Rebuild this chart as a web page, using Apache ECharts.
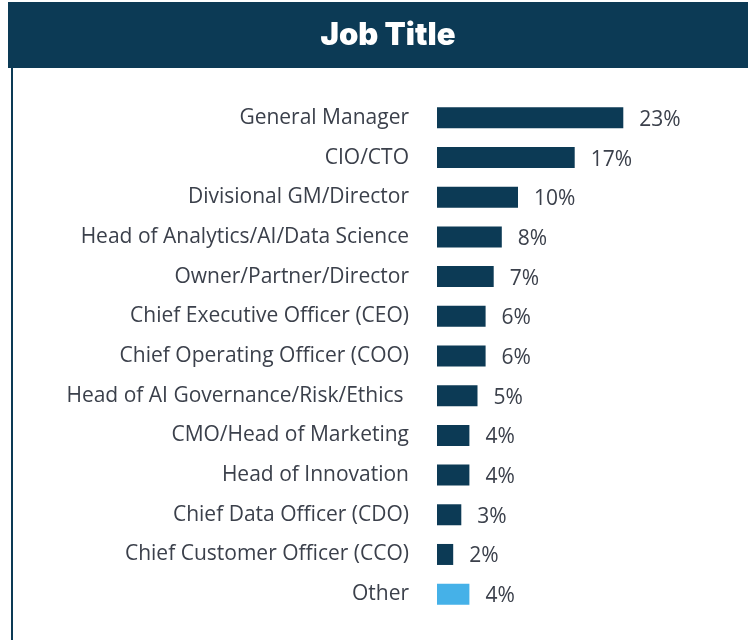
<!DOCTYPE html>
<html>
<head>
<meta charset="utf-8">
<style>
  html, body { margin: 0; padding: 0; background: #ffffff; }
  #chart-jobs { width: 748px; height: 640px; }
</style>
<script src="https://cdn.jsdelivr.net/npm/echarts@6/dist/echarts.min.js"></script>
</head>
<body>
<div id="chart-jobs"></div>
<script>
var categories = [
  "General Manager",
  "CIO/CTO",
  "Divisional GM/Director",
  "Head of Analytics/AI/Data Science",
  "Owner/Partner/Director",
  "Chief Executive Officer (CEO)",
  "Chief Operating Officer (COO)",
  "Head of AI Governance/Risk/Ethics ",
  "CMO/Head of Marketing",
  "Head of Innovation",
  "Chief Data Officer (CDO)",
  "Chief Customer Officer (CCO)",
  "Other"
];
var shares = [23, 17, 10, 8, 7, 6, 6, 5, 4, 4, 3, 2, 4];
var highlight = ["Other"];

(function() {
  var navy = '#0c3a55';
  var sky = '#45b1e8';
  var ink = '#3b404b';

  var chart = echarts.init(document.getElementById('chart-jobs'), null, { renderer: 'canvas' });

  // top row first in the picture, so reverse for the category axis
  var cats = categories.slice().reverse();
  var vals = shares.slice().reverse().map(function(v, i) {
    return {
      value: v,
      itemStyle: { color: highlight.indexOf(cats[i]) >= 0 ? sky : navy }
    };
  });

  chart.setOption({
    animation: false,
    graphic: [
      { type: 'rect', shape: { x: 8, y: 2, width: 741, height: 66 }, style: { fill: navy }, z: 0 },
      { type: 'rect', shape: { x: 11, y: 68, width: 2, height: 572 }, style: { fill: navy }, z: 0 },
      {
        type: 'text', z: 10,
        style: {
          x: 388, y: 36, text: 'Job Title', fill: '#ffffff',
          font: '900 31px Inter', align: 'center', verticalAlign: 'middle'
        }
      }
    ],
    grid: { left: 437, right: 68, top: 98, bottom: 26, containLabel: false },
    xAxis: {
      type: 'value',
      min: 0,
      max: 30,
      show: false
    },
    yAxis: {
      type: 'category',
      data: cats,
      axisLine: { show: false },
      axisTick: { show: false },
      axisLabel: {
        color: ink,
        fontFamily: 'Open Sans',
        fontSize: 21,
        margin: 28
      }
    },
    series: [{
      type: 'bar',
      data: vals,
      barWidth: 21,
      label: {
        show: true,
        position: 'right',
        distance: 16,
        offset: [0, 2],
        color: ink,
        fontFamily: 'Open Sans',
        fontSize: 21,
        formatter: '{c}%'
      }
    }]
  });
  window.addEventListener('resize', function() { chart.resize(); });
})();
</script>
</body>
</html>
